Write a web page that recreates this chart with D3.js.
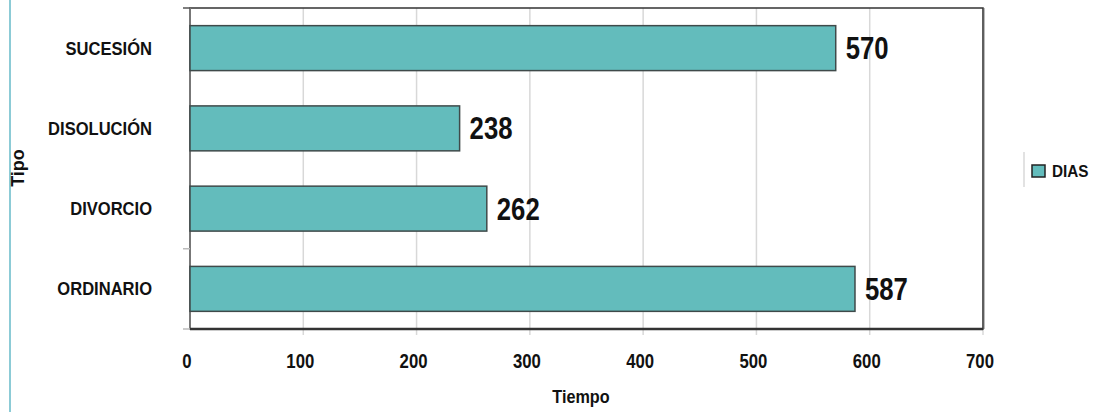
<!DOCTYPE html>
<html><head><meta charset="utf-8">
<script src="https://cdn.jsdelivr.net/npm/d3@7"></script>
<style>body{margin:0;background:#fff}svg{display:block}text{font-family:"Liberation Sans",Arial,sans-serif;font-weight:bold;fill:#111}</style>
</head><body><svg id="c" width="1100" height="412"></svg>
<script>
const categories = ["SUCESIÓN","DISOLUCIÓN","DIVORCIO","ORDINARIO"];
const values = [570,238,262,587];
const xTicks = [0,100,200,300,400,500,600,700];
const seriesName = "DIAS";

const svg = d3.select("#c");
const L=190,R=983,T=8,B=329;
const x = d3.scaleLinear().domain([0,700]).range([L,R]);
const y = d3.scaleBand().domain(categories).range([T,B]).paddingInner(0.44).paddingOuter(0.22);

function condensed(sel, sx){
  sel.attr("transform",function(){
    const t=d3.select(this); return `translate(${t.attr("data-x")},${t.attr("data-y")}) scale(${sx},1)`;
  });
}

// left page line
svg.append("line").attr("x1",10).attr("x2",10).attr("y1",0).attr("y2",412).attr("stroke","#8ccbd6").attr("stroke-width",2);

// gridlines
svg.append("g").selectAll("line").data(xTicks.slice(1)).join("line")
  .attr("x1",d=>x(d)).attr("x2",d=>x(d)).attr("y1",T).attr("y2",B+6)
  .attr("stroke","#d8d8d8").attr("stroke-width",1.5);

// frame
svg.append("rect").attr("x",L).attr("y",T).attr("width",R-L).attr("height",B-T)
  .attr("fill","none").attr("stroke","#333").attr("stroke-width",1.5);
svg.append("line").attr("x1",R+1.5).attr("x2",R+1.5).attr("y1",T).attr("y2",B).attr("stroke","#bbb").attr("stroke-width",1);
svg.append("line").attr("x1",L).attr("x2",L).attr("y1",T).attr("y2",B).attr("stroke","#777").attr("stroke-width",2);
svg.append("line").attr("x1",L).attr("x2",R).attr("y1",B).attr("y2",B).attr("stroke","#333").attr("stroke-width",2.5);

// y ticks at visible band boundaries
const bounds = [0,3,4].map(i=>T+i*(B-T)/categories.length);
svg.append("g").selectAll("line").data(bounds).join("line")
  .attr("x1",L-7).attr("x2",L).attr("y1",d=>d).attr("y2",d=>d).attr("stroke",(d,i)=>i===0?"#555":"#bbb").attr("stroke-width",1.5);

// bars
svg.append("g").selectAll("rect").data(values).join("rect")
  .attr("x",x(0)).attr("y",(d,i)=>y(categories[i]))
  .attr("width",d=>x(d)-x(0)).attr("height",y.bandwidth())
  .attr("fill","#63bcbc").attr("stroke","#3f4a4a").attr("stroke-width",1.5);

// value labels
svg.append("g").selectAll("text").data(values).join("text")
  .attr("data-x",d=>x(d)+10).attr("data-y",(d,i)=>y(categories[i])+y.bandwidth()/2+11)
  .attr("font-size",31).text(d=>d).call(condensed,0.83);

// category labels
svg.append("g").selectAll("text").data(categories).join("text")
  .attr("data-x",152).attr("data-y",d=>y(d)+y.bandwidth()/2+6.5)
  .attr("text-anchor","end").attr("font-size",18).text(d=>d).call(condensed,0.92);

// x axis labels
svg.append("g").selectAll("text").data(xTicks).join("text")
  .attr("data-x",d=>x(d)-3).attr("data-y",368).attr("text-anchor","middle").attr("font-size",19.5).text(d=>d).call(condensed,0.86);

svg.append("text").attr("data-x",581).attr("data-y",403).attr("text-anchor","middle").attr("font-size",18).text("Tiempo").call(condensed,0.9);
svg.append("text").attr("transform","translate(24,168) rotate(-90)").attr("text-anchor","middle").attr("font-size",18).text("Tipo");

// legend
svg.append("line").attr("x1",1024).attr("x2",1024).attr("y1",152).attr("y2",187).attr("stroke","#e2e2e2").attr("stroke-width",2);
svg.append("rect").attr("x",1032).attr("y",165).attr("width",13).attr("height",12).attr("fill","#63bcbc").attr("stroke","#222").attr("stroke-width",1.5);
svg.append("text").attr("data-x",1052).attr("data-y",177).attr("font-size",17).text(seriesName).call(condensed,0.9);
</script></body></html>
